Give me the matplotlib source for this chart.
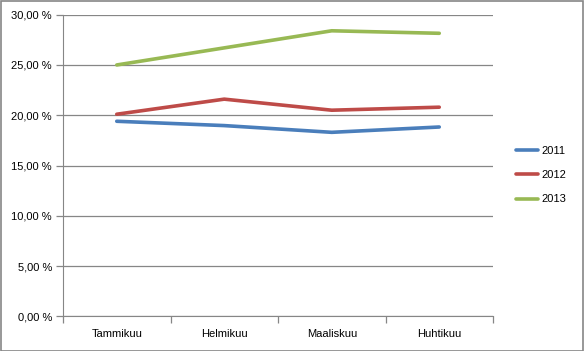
import matplotlib
matplotlib.use('Agg')
import matplotlib.pyplot as plt
from matplotlib.ticker import FixedLocator, NullFormatter

plt.rcParams['font.family'] = ['Liberation Sans', 'DejaVu Sans']

kuukaudet = ['Tammikuu', 'Helmikuu', 'Maaliskuu', 'Huhtikuu']
v2011 = [19.4, 18.97, 18.3, 18.83]
v2012 = [20.1, 21.6, 20.5, 20.8]
v2013 = [25.0, 26.7, 28.4, 28.15]

W, H = 584, 351
fig = plt.figure(figsize=(W / 100, H / 100), dpi=100)
ax = fig.add_axes([63 / W, 1 - 316.3 / H, (493 - 63) / W, (316.3 - 14.7) / H])

x = range(len(kuukaudet))
ax.plot(x, v2011, color='#4A7EBB', lw=2.6, label='2011', solid_capstyle='round')
ax.plot(x, v2012, color='#BE4B48', lw=2.6, label='2012', solid_capstyle='round')
ax.plot(x, v2013, color='#98B954', lw=2.6, label='2013', solid_capstyle='round')

ax.set_xlim(-0.5, 3.5)
ax.set_ylim(0, 30)
ax.set_yticks(range(0, 31, 5))
ax.set_yticklabels([f'{v},00 %' for v in range(0, 31, 5)], fontsize=8)
ax.yaxis.grid(True, color='#868686', lw=0.9)
ax.set_axisbelow(True)

ax.set_xticks(list(x))
ax.set_xticklabels(kuukaudet, fontsize=8)
ax.tick_params(axis='x', length=0, pad=9)
ax.xaxis.set_minor_locator(FixedLocator([-0.5, 0.5, 1.5, 2.5, 3.5]))
ax.xaxis.set_minor_formatter(NullFormatter())
ax.tick_params(axis='x', which='minor', length=5, color='#868686', width=0.9)
ax.tick_params(axis='y', length=5, color='#868686', width=0.9, pad=3)

for s in ['top', 'right']:
    ax.spines[s].set_visible(False)
ax.spines['left'].set_color('#868686')
ax.spines['bottom'].set_color('#868686')

leg = fig.legend(loc='center left', bbox_to_anchor=(506 / W, 1 - 175 / H),
                 frameon=False, fontsize=8, handlelength=2.0, handletextpad=0.3,
                 labelspacing=1.3)

border = plt.Rectangle((0.5 / W, 0.5 / H), 1 - 1.5 / W, 1 - 1.5 / H, transform=fig.transFigure,
                       fill=False, edgecolor='#868686', lw=1.2)
fig.patches.append(border)

fig.savefig('out.png', dpi=100)
